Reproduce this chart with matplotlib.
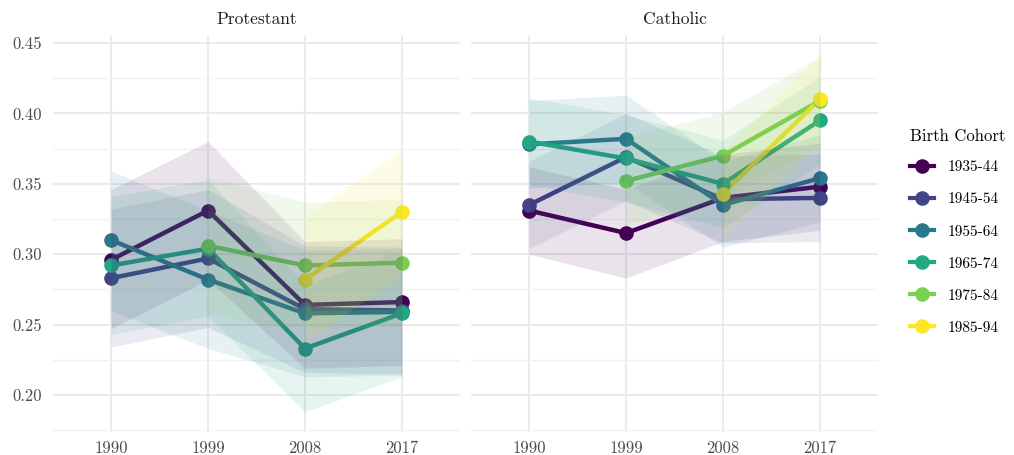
"""
Cohort shares by survey wave, Protestant vs Catholic
"""
import matplotlib
matplotlib.use("Agg")
import matplotlib.pyplot as plt
from matplotlib.lines import Line2D
from matplotlib.ticker import MultipleLocator, FormatStrFormatter
import numpy as np

plt.rcParams['font.family'] = ['cmr10', 'DejaVu Serif']
plt.rcParams['axes.formatter.use_mathtext'] = True

nan = np.nan
years = ['1990', '1999', '2008', '2017']
cohorts = ['1935-44', '1945-54', '1955-64', '1965-74', '1975-84', '1985-94']
colors = ['#440154', '#414487', '#2A788E', '#22A884', '#7AD151', '#FDE725']
panels = ['Protestant', 'Catholic']

# Protestant estimates and interval bounds
prot_est = [
    [0.296, 0.331, 0.264, 0.266],
    [0.283, 0.297, 0.261, 0.260],
    [0.310, 0.282, 0.258, 0.259],
    [0.292, 0.304, 0.233, 0.258],
    [nan, 0.306, 0.292, 0.294],
    [nan, nan, 0.282, 0.330],
]
prot_lo = [
    [0.247, 0.282, 0.219, 0.221],
    [0.234, 0.248, 0.216, 0.215],
    [0.260, 0.233, 0.213, 0.214],
    [0.243, 0.256, 0.188, 0.213],
    [nan, 0.257, 0.247, 0.249],
    [nan, nan, 0.237, 0.286],
]
prot_hi = [
    [0.346, 0.380, 0.309, 0.311],
    [0.332, 0.346, 0.306, 0.305],
    [0.359, 0.331, 0.303, 0.304],
    [0.341, 0.353, 0.278, 0.303],
    [nan, 0.355, 0.337, 0.339],
    [nan, nan, 0.327, 0.374],
]

# Catholic estimates and interval bounds
cath_est = [
    [0.331, 0.315, 0.340, 0.348],
    [0.335, 0.369, 0.339, 0.340],
    [0.378, 0.382, 0.335, 0.354],
    [0.380, 0.368, 0.350, 0.395],
    [nan, 0.352, 0.370, 0.409],
    [nan, nan, 0.343, 0.410],
]
cath_lo = [
    [0.300, 0.283, 0.309, 0.317],
    [0.304, 0.338, 0.308, 0.309],
    [0.347, 0.351, 0.305, 0.323],
    [0.349, 0.337, 0.319, 0.364],
    [nan, 0.321, 0.339, 0.378],
    [nan, nan, 0.312, 0.379],
]
cath_hi = [
    [0.362, 0.346, 0.371, 0.379],
    [0.366, 0.400, 0.370, 0.371],
    [0.409, 0.413, 0.366, 0.385],
    [0.411, 0.399, 0.381, 0.426],
    [nan, 0.383, 0.401, 0.440],
    [nan, nan, 0.374, 0.441],
]

data = {
    'Protestant': (prot_est, prot_lo, prot_hi),
    'Catholic': (cath_est, cath_lo, cath_hi),
}

W, H = 1014, 455
fig = plt.figure(figsize=(W / 100, H / 100), dpi=100)

x = np.arange(len(years))
for i, name in enumerate(panels):
    left = [53, 471][i]
    ax = fig.add_axes([left / W, (H - 432) / H, 407 / W, 396 / H])
    est, lo, hi = data[name]
    for c in range(len(cohorts)):
        e = np.array(est[c], dtype=float)
        ax.plot(x, e, color=colors[c], lw=3.2, zorder=3, solid_capstyle='butt')
        ax.plot(x, e, 'o', color=colors[c], ms=10.5, mec='none', zorder=4)
    # ribbons sit on top of the lines, as in the original
    for c in range(len(cohorts)):
        l = np.array(lo[c], dtype=float)
        h = np.array(hi[c], dtype=float)
        ax.fill_between(x, l, h, color=colors[c], alpha=0.11, linewidth=0, zorder=5)

    ax.set_xlim(-0.6, 3.6)
    ax.set_ylim(0.1737, 0.455)
    ax.set_xticks(x)
    ax.set_xticklabels(years)
    ax.yaxis.set_major_locator(MultipleLocator(0.05))
    ax.yaxis.set_minor_locator(MultipleLocator(0.025))
    ax.yaxis.set_major_formatter(FormatStrFormatter('%.2f'))
    ax.grid(True, which='major', color='#EBEBEB', lw=1.5, zorder=0)
    ax.grid(True, which='minor', axis='y', color='#F2F2F2', lw=1.0, zorder=0)
    ax.set_axisbelow(True)
    for s in ax.spines.values():
        s.set_visible(False)
    ax.tick_params(which='both', length=0, labelsize=12, colors='#4D4D4D')
    ax.tick_params(axis='x', pad=6)
    ax.tick_params(axis='y', pad=8)
    ax.set_title(name, fontsize=12.5, color='#1A1A1A', pad=9)
    if i == 1:
        ax.tick_params(labelleft=False)

handles = [Line2D([0], [0], color=col, lw=3, marker='o', ms=10.5, mec='none')
           for col in colors]
leg = fig.legend(handles, cohorts, title='Birth Cohort', loc='upper left',
                 bbox_to_anchor=(896 / W, 1 - 115 / H), frameon=False,
                 fontsize=11, title_fontsize=12, handlelength=1.6,
                 labelspacing=1.2, handletextpad=0.9)
leg._legend_box.align = 'left'
leg._legend_box.sep = 12

fig.savefig('out.png', dpi=100)
